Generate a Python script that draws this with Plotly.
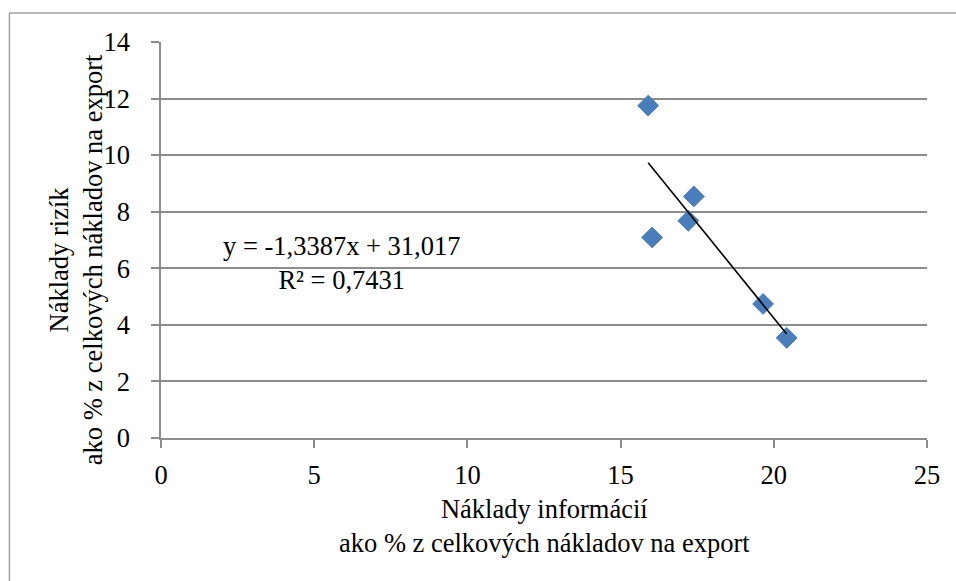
import numpy as np
import plotly.graph_objects as go

# Data
x_info = [15.90, 16.03, 17.21, 17.39, 19.65, 20.42]
y_risk = [11.75, 7.09, 7.68, 8.54, 4.74, 3.54]
slope = -1.3387
intercept = 31.017
r_squared = 0.7431
x_ticks = [0, 5, 10, 15, 20, 25]
y_ticks = [0, 2, 4, 6, 8, 10, 12, 14]

x_title = ["Náklady informácií", "ako % z celkových nákladov na export"]
y_title = ["Náklady rizík", "ako % z celkových nákladov na export"]

FONT = "Liberation Serif, Times New Roman, serif"
GRID = "#8c8c8c"

tx = np.array([min(x_info), max(x_info)])
ty = slope * tx + intercept

fig = go.Figure()
fig.add_trace(go.Scatter(
    x=x_info, y=y_risk, mode="markers",
    marker=dict(symbol="diamond", size=16, color="#4a7ebb",
                line=dict(color="#4a7ebb", width=1)),
    showlegend=False))
fig.add_trace(go.Scatter(
    x=tx, y=ty, mode="lines",
    line=dict(color="black", width=1.6), showlegend=False))

L, R, T, B = 160.7, 927.3, 41.7, 438.5
W, H = 956, 581
pw, ph = R - L, B - T

def px(xp):
    return (xp - L) / pw

def py(yp):
    return (B - yp) / ph

tfont = dict(family=FONT, size=26.5, color="black")

fig.update_layout(
    width=W, height=H,
    margin=dict(l=L, r=W - R, t=T, b=H - B, pad=0),
    paper_bgcolor="white", plot_bgcolor="white",
    font=tfont,
    xaxis=dict(range=[0, 25], tickvals=x_ticks, ticktext=[str(v) for v in x_ticks],
               tickfont=tfont,
               showgrid=False, zeroline=False, showline=True, linecolor=GRID, linewidth=1.5,
               ticks="outside", ticklen=8, tickcolor=GRID, tickwidth=1.5,
               ticklabelstandoff=4, fixedrange=True),
    yaxis=dict(range=[0, 14], tickvals=y_ticks, ticktext=[str(v) for v in y_ticks],
               tickfont=tfont,
               showgrid=True, gridcolor=GRID, gridwidth=1.5, zeroline=False,
               showline=True, linecolor=GRID, linewidth=1.5,
               ticks="outside", ticklen=8, tickcolor=GRID, tickwidth=1.5,
               ticklabelstandoff=16, fixedrange=True),
    shapes=[
        dict(type="line", xref="paper", yref="paper", x0=px(9), x1=px(960), y0=py(12.7), y1=py(12.7),
             line=dict(color="#a0a0a0", width=1.5)),
        dict(type="line", xref="paper", yref="paper", x0=px(9), x1=px(9), y0=py(12.7), y1=py(590),
             line=dict(color="#a0a0a0", width=1.5)),
    ],
    annotations=[
        dict(text="<br>".join(x_title), xref="paper", yref="paper", x=0.5, y=py(527),
             showarrow=False, xanchor="center", yanchor="middle", font=tfont),
        dict(text="<br>".join(y_title), xref="paper", yref="paper", x=px(75), y=py(260),
             showarrow=False, xanchor="center", yanchor="middle", textangle=-90, font=tfont),
        dict(text=f"y = {slope:.4f}x + {intercept:.3f}".replace(".", ",") + "<br>" +
                  f"R² = {r_squared:.4f}".replace(".", ","),
             xref="paper", yref="paper", x=px(341), y=py(263),
             showarrow=False, xanchor="center", yanchor="middle", font=tfont),
    ],
)

fig.write_html("out.html", config={"displayModeBar": False},
               post_script="document.body.style.margin='0';document.body.style.overflow='hidden';")
